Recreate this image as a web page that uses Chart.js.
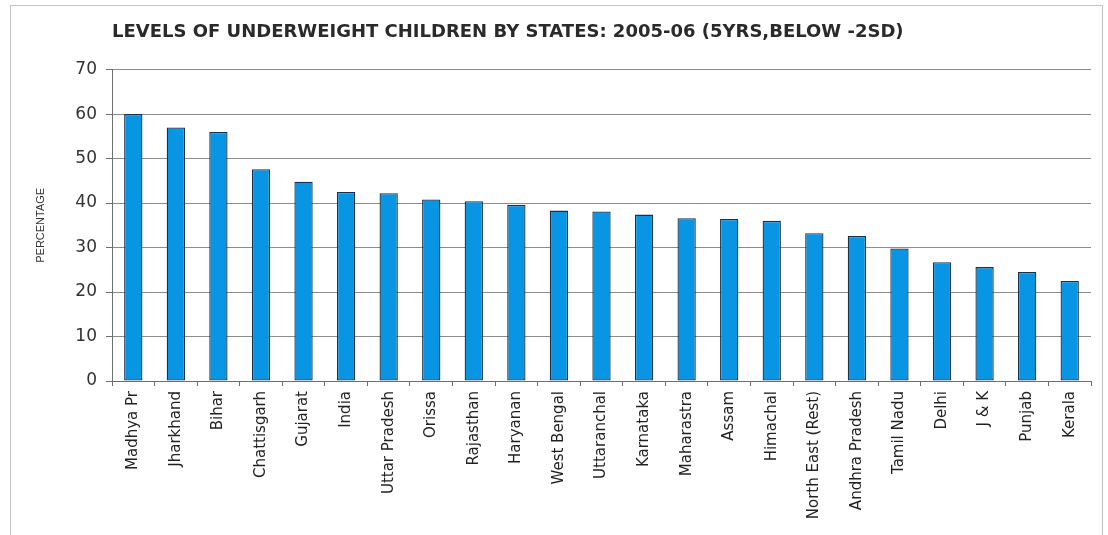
<!DOCTYPE html>
<html>
<head>
<meta charset="utf-8">
<title>Underweight children by states</title>
<script src="https://cdn.jsdelivr.net/npm/chart.js@4.4.1/dist/chart.umd.min.js"></script>
<style>
  html, body { margin: 0; padding: 0; background: #fff; }
  #wrap { position: relative; width: 1108px; height: 535px; }
  #frame {
    position: absolute; left: 10px; top: 5px; width: 1091px; height: 540px;
    border: 1px solid #c4c4c4; border-bottom: none; pointer-events: none;
  }
</style>
</head>
<body>
<div id="wrap">
  <canvas id="chart"></canvas>
  <div id="frame"></div>
</div>
<script>
// NFHS-3, children under 5 years, weight-for-age below -2SD (%)
const states = [
  'Madhya Pr', 'Jharkhand', 'Bihar', 'Chattisgarh', 'Gujarat', 'India',
  'Uttar Pradesh', 'Orissa', 'Rajasthan', 'Haryanan', 'West Bengal',
  'Uttaranchal', 'Karnataka', 'Maharastra', 'Assam', 'Himachal',
  'North East (Rest)', 'Andhra Pradesh', 'Tamil Nadu', 'Delhi', 'J & K',
  'Punjab', 'Kerala'
];
const underweight = [
  60.0, 57.0, 56.0, 47.6, 44.8, 42.5,
  42.2, 40.8, 40.4, 39.6, 38.3,
  38.1, 37.4, 36.6, 36.4, 36.0,
  33.2, 32.6, 29.8, 26.7, 25.6,
  24.5, 22.5
];
const yTicks = [0, 10, 20, 30, 40, 50, 60, 70];

const chartTitle = 'LEVELS OF UNDERWEIGHT CHILDREN BY STATES: 2005-06 (5YRS,BELOW -2SD)';
const yTitle = 'PERCENTAGE';

const gridGrey = '#8c8c8c';
const axisGrey = '#6e6e6e';

new Chart(document.getElementById('chart'), {
  type: 'bar',
  data: {
    labels: states,
    datasets: [{
      data: underweight,
      backgroundColor: '#0895e3',
      borderColor: '#18324d',
      borderWidth: 1.3,
      borderSkipped: false,
      categoryPercentage: 1,
      barPercentage: 0.43
    }]
  },
  options: {
    responsive: true,
    maintainAspectRatio: false,
    animation: false,
    layout: { padding: { left: 28, right: 17, top: 0, bottom: 0 } },
    plugins: {
      legend: { display: false },
      tooltip: { enabled: false },
      title: {
        display: true,
        text: chartTitle,
        align: 'start',
        fullSize: false,
        color: '#2a2a2a',
        font: { family: 'DejaVu Sans', size: 18, weight: 'bold', lineHeight: 1.2 },
        padding: { top: 22, bottom: 26 }
      }
    },
    scales: {
      x: {
        grid: {
          offset: true,
          drawOnChartArea: true,
          // only the closing line on the right edge shows inside the plot
          color: ctx => ctx.index === states.length ? gridGrey : 'rgba(0,0,0,0)',
          tickColor: axisGrey,
          tickLength: 5
        },
        border: { color: axisGrey },
        ticks: {
          autoSkip: false,
          maxRotation: 90,
          minRotation: 90,
          padding: 5,
          color: '#222',
          font: { family: 'DejaVu Sans', size: 15 }
        },
        afterFit: scale => { scale.height = 535 - 381; }
      },
      y: {
        min: 0,
        max: 70,
        afterBuildTicks: scale => { scale.ticks = yTicks.map(v => ({ value: v })); },
        grid: { color: gridGrey, tickColor: axisGrey, tickLength: 6 },
        border: { color: axisGrey },
        ticks: {
          padding: 9,
          color: '#333',
          font: { family: 'DejaVu Sans', size: 17 }
        },
        title: {
          display: true,
          text: yTitle,
          color: '#333',
          font: { family: 'Liberation Sans', size: 11 },
          padding: { top: 6, bottom: 0 }
        },
        afterFit: scale => { scale.width = 112 - 28; }
      }
    }
  }
});
</script>
</body>
</html>
